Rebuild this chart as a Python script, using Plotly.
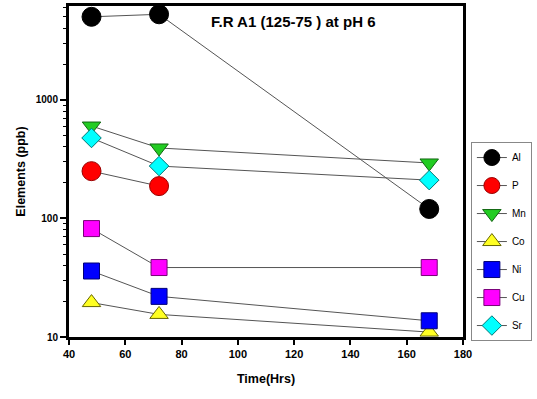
import plotly.graph_objects as go

time_hrs = [48, 72, 168]
al = [5000, 5250, 120]
p = [250, 187]
mn = [600, 392, 293]
co = [19.5, 15.5, 11]
ni = [36, 22, 13.7]
cu = [82, 38.5, 38.5]
sr = [476, 276, 210]

series = [
    ("Al", time_hrs, al, "circle", 19, "#000000", "#000000"),
    ("P", time_hrs[:2], p, "circle", 19, "#ff0000", "#990000"),
    ("Mn", time_hrs, mn, "triangle-down", 16, "#22cc22", "#116611"),
    ("Co", time_hrs, co, "triangle-up", 16, "#ffff22", "#666600"),
    ("Ni", time_hrs, ni, "square", 16, "#0000ff", "#000077"),
    ("Cu", time_hrs, cu, "square", 16, "#ff00ff", "#770077"),
    ("Sr", time_hrs, sr, "diamond", 15, "#00ffff", "#007777"),
]

fig = go.Figure()
for name, x, y, sym, size, fill, edge in series:
    fig.add_trace(go.Scatter(
        x=x, y=y, name=name, mode="lines+markers", legendgroup=name,
        line=dict(color="#555555", width=1),
        marker=dict(symbol=sym, size=size, color=fill, line=dict(color=edge, width=1)),
    ))

font_family = "Liberation Sans, Arial, sans-serif"
fig.update_layout(
    width=537, height=399,
    margin=dict(l=69, r=74, t=6, b=62, autoexpand=False),
    paper_bgcolor="white", plot_bgcolor="white",
    font=dict(family=font_family, color="black", size=10),
    showlegend=True,
    legend=dict(x=1.02, y=0.589, xanchor="left", yanchor="top",
                bordercolor="#888888", borderwidth=1,
                font=dict(size=10), itemsizing="trace", tracegroupgap=9,
                itemwidth=30),
    annotations=[dict(text="<b>F.R A1 (125-75 ) at pH 6</b>", x=0.57, y=0.985,
                      xref="paper", yref="paper", xanchor="center", yanchor="top",
                      showarrow=False, font=dict(size=15, family=font_family))],
)
fig.update_xaxes(
    range=[40, 180], tickvals=[40, 60, 80, 100, 120, 140, 160, 180],
    ticktext=["<b>%d</b>" % v for v in [40, 60, 80, 100, 120, 140, 160, 180]],
    ticks="outside", ticklen=5, tickwidth=2, tickcolor="black",
    tickfont=dict(size=11),
    showline=True, linewidth=3, linecolor="black", mirror=True,
    showgrid=False, zeroline=False,
    title=dict(text="<b>Time(Hrs)</b>", font=dict(size=12.5), standoff=16),
)
fig.update_yaxes(
    type="log", range=[1, 3.79],
    tickvals=[10, 100, 1000], ticktext=["<b>10</b>", "<b>100</b>", "<b>1000</b>"],
    ticks="outside", ticklen=6, tickwidth=2, tickcolor="black",
    tickfont=dict(size=10),
    minor=dict(ticks="outside", ticklen=3, tickcolor="black", tickwidth=1,
               tickvals=[m * d for d in (10, 100, 1000) for m in range(2, 10) if m * d < 6200]),
    showline=True, linewidth=3, linecolor="black", mirror=True,
    showgrid=False, zeroline=False,
    title=dict(text="<b>Elements (ppb)</b>", font=dict(size=12.5), standoff=8),
)
fig.write_html("out.html")
